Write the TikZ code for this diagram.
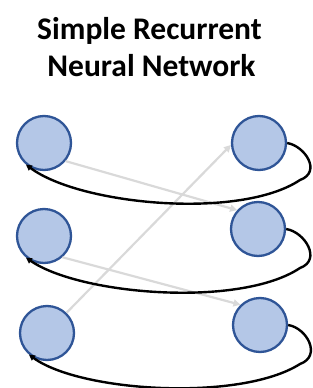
\documentclass[tikz,border=0pt]{standalone}
\usepackage{fontspec}
\setmainfont{Carlito}
\usetikzlibrary{arrows.meta}
\definecolor{nodefill}{HTML}{B4C7E7}
\definecolor{nodeline}{HTML}{2F5597}
\definecolor{grayarrow}{HTML}{D9D9D9}
\begin{document}
\begin{tikzpicture}[x=1pt,y=-1pt,
  neuron/.style={circle,draw=nodeline,fill=nodefill,line width=2.3pt,minimum size=54pt,inner sep=0pt},
  titletext/.style={font=\fontsize{31.5}{38}\selectfont\bfseries,anchor=base,inner sep=0pt},
  feed/.style={draw=grayarrow,line width=2.2pt,-{Triangle[length=7pt,width=7pt]}},
  loop/.style={draw=black,line width=2.4pt,-{Triangle[length=6pt,width=6pt]}}]
\useasboundingbox (0,0) rectangle (313,388);
\node[titletext] (t1) at (149.5,39) {Simple Recurrent};
\node[titletext] (t2) at (151.5,76) {Neural Network};
\node[neuron] (L1) at (44,143) {};
\node[neuron] (L2) at (44,236) {};
\node[neuron] (L3) at (47,333) {};
\node[neuron] (R1) at (259,143) {};
\node[neuron] (R2) at (258,229) {};
\node[neuron] (R3) at (260,325) {};
\draw[feed] (L1.320) -- (R2.138);
\draw[feed] (L2.311) -- (R3.134);
\draw[feed] (L3.46) -- (R1.184);
\draw[loop] (R1.east) .. controls (305,146) and (322,172) .. (300,180) .. controls (240,220) and (80,205) .. (L1.230);
\draw[loop] (R2.east) .. controls (305,232) and (322,260) .. (300,268) .. controls (240,308) and (80,295) .. (L2.230);
\draw[loop] (R3.east) .. controls (307,328) and (322,356) .. (300,364) .. controls (240,402) and (80,392) .. (L3.230);
\end{tikzpicture}
\end{document}
